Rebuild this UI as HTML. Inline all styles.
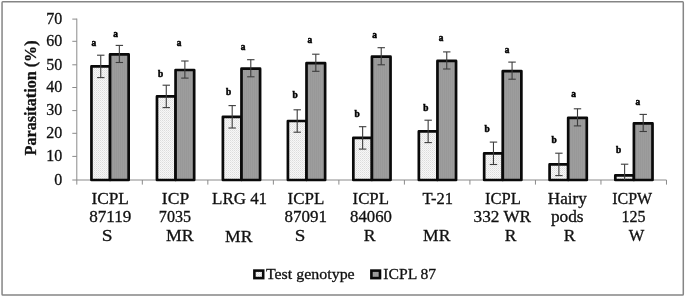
<!DOCTYPE html>
<html><head><meta charset="utf-8"><title>Parasitation chart</title>
<style>
html,body{margin:0;padding:0;background:#fff;}
svg{display:block;}
text{font-family:"Liberation Serif","Times New Roman",serif;fill:#111;stroke:#111;stroke-width:0.3px;}
.b{font-weight:bold;}
</style></head><body>
<svg width="685" height="297" viewBox="0 0 685 297">
<defs>
<pattern id="dots" width="2" height="2" patternUnits="userSpaceOnUse">
<rect width="2" height="2" fill="#f7f7f7"/>
<rect x="0" y="0" width="1" height="1" fill="#dcdcdc"/>
<rect x="1" y="1" width="1" height="1" fill="#e8e8e8"/>
</pattern>
<pattern id="vstr" width="2" height="2" patternUnits="userSpaceOnUse">
<rect width="2" height="2" fill="#9d9d9d"/>
<rect x="0" y="0" width="1" height="2" fill="#989898"/>
</pattern>
</defs>
<rect x="0" y="0" width="685" height="297" fill="#fff"/>
<rect x="2.05" y="1.85" width="681.25" height="293.15" rx="0.8" ry="0.8" fill="#fff" stroke="#858585" stroke-width="1.5"/>

<g stroke="#8a8a8a" stroke-width="1" fill="none">
<line x1="76.8" y1="18.6" x2="76.8" y2="184.6"/>
<line x1="72.3" y1="180.0" x2="666.5" y2="180.0"/>
<line x1="72.3" y1="156.40" x2="76.8" y2="156.40"/>
<line x1="72.3" y1="133.30" x2="76.8" y2="133.30"/>
<line x1="72.3" y1="110.60" x2="76.8" y2="110.60"/>
<line x1="72.3" y1="87.50" x2="76.8" y2="87.50"/>
<line x1="72.3" y1="64.80" x2="76.8" y2="64.80"/>
<line x1="72.3" y1="41.30" x2="76.8" y2="41.30"/>
<line x1="72.3" y1="19.10" x2="76.8" y2="19.10"/>
<line x1="142.32" y1="180.0" x2="142.32" y2="184.6"/>
<line x1="207.84" y1="180.0" x2="207.84" y2="184.6"/>
<line x1="273.36" y1="180.0" x2="273.36" y2="184.6"/>
<line x1="338.88" y1="180.0" x2="338.88" y2="184.6"/>
<line x1="404.40" y1="180.0" x2="404.40" y2="184.6"/>
<line x1="469.92" y1="180.0" x2="469.92" y2="184.6"/>
<line x1="535.44" y1="180.0" x2="535.44" y2="184.6"/>
<line x1="600.96" y1="180.0" x2="600.96" y2="184.6"/>
<line x1="666.48" y1="180.0" x2="666.48" y2="184.6"/>
</g>
<text x="62.3" y="184.85" font-size="16" text-anchor="end">0</text>
<text x="62.3" y="161.25" font-size="16" text-anchor="end">10</text>
<text x="62.3" y="138.15" font-size="16" text-anchor="end">20</text>
<text x="62.3" y="115.45" font-size="16" text-anchor="end">30</text>
<text x="62.3" y="92.35" font-size="16" text-anchor="end">40</text>
<text x="62.3" y="69.65" font-size="16" text-anchor="end">50</text>
<text x="62.3" y="46.15" font-size="16" text-anchor="end">60</text>
<text x="62.3" y="23.95" font-size="16" text-anchor="end">70</text>
<text class="b" font-size="16" text-anchor="middle" textLength="115" lengthAdjust="spacingAndGlyphs" transform="translate(36.2,97.9) rotate(-90)">Parasitation (%)</text>
<rect x="91.45" y="66.40" width="18.60" height="113.60" fill="url(#dots)" stroke="#0a0a0a" stroke-width="2.7" stroke-linejoin="round"/>
<rect x="110.05" y="54.40" width="18.60" height="125.60" fill="url(#vstr)" stroke="#0a0a0a" stroke-width="2.7" stroke-linejoin="round"/>
<g stroke="#3c3c3c" stroke-width="1.1" fill="none"><line x1="100.75" y1="55.20" x2="100.75" y2="77.60"/><line x1="97.05" y1="55.20" x2="104.45" y2="55.20"/>
<line x1="97.05" y1="77.60" x2="104.45" y2="77.60"/>
</g>
<g stroke="#3c3c3c" stroke-width="1.1" fill="none"><line x1="119.35" y1="45.40" x2="119.35" y2="62.50"/><line x1="115.65" y1="45.40" x2="123.05" y2="45.40"/>
<line x1="115.65" y1="62.50" x2="123.05" y2="62.50"/>
</g>
<rect x="156.97" y="96.40" width="18.60" height="83.60" fill="url(#dots)" stroke="#0a0a0a" stroke-width="2.7" stroke-linejoin="round"/>
<rect x="175.57" y="70.00" width="18.60" height="110.00" fill="url(#vstr)" stroke="#0a0a0a" stroke-width="2.7" stroke-linejoin="round"/>
<g stroke="#3c3c3c" stroke-width="1.1" fill="none"><line x1="166.27" y1="85.20" x2="166.27" y2="107.60"/><line x1="162.57" y1="85.20" x2="169.97" y2="85.20"/>
<line x1="162.57" y1="107.60" x2="169.97" y2="107.60"/>
</g>
<g stroke="#3c3c3c" stroke-width="1.1" fill="none"><line x1="184.87" y1="61.00" x2="184.87" y2="78.10"/><line x1="181.17" y1="61.00" x2="188.57" y2="61.00"/>
<line x1="181.17" y1="78.10" x2="188.57" y2="78.10"/>
</g>
<rect x="222.89" y="116.80" width="18.60" height="63.20" fill="url(#dots)" stroke="#0a0a0a" stroke-width="2.7" stroke-linejoin="round"/>
<rect x="241.49" y="68.70" width="18.60" height="111.30" fill="url(#vstr)" stroke="#0a0a0a" stroke-width="2.7" stroke-linejoin="round"/>
<g stroke="#3c3c3c" stroke-width="1.1" fill="none"><line x1="232.19" y1="105.60" x2="232.19" y2="128.00"/><line x1="228.49" y1="105.60" x2="235.89" y2="105.60"/>
<line x1="228.49" y1="128.00" x2="235.89" y2="128.00"/>
</g>
<g stroke="#3c3c3c" stroke-width="1.1" fill="none"><line x1="250.79" y1="59.70" x2="250.79" y2="76.80"/><line x1="247.09" y1="59.70" x2="254.49" y2="59.70"/>
<line x1="247.09" y1="76.80" x2="254.49" y2="76.80"/>
</g>
<rect x="287.91" y="121.00" width="18.60" height="59.00" fill="url(#dots)" stroke="#0a0a0a" stroke-width="2.7" stroke-linejoin="round"/>
<rect x="306.51" y="63.20" width="18.60" height="116.80" fill="url(#vstr)" stroke="#0a0a0a" stroke-width="2.7" stroke-linejoin="round"/>
<g stroke="#3c3c3c" stroke-width="1.1" fill="none"><line x1="297.21" y1="109.80" x2="297.21" y2="132.20"/><line x1="293.51" y1="109.80" x2="300.91" y2="109.80"/>
<line x1="293.51" y1="132.20" x2="300.91" y2="132.20"/>
</g>
<g stroke="#3c3c3c" stroke-width="1.1" fill="none"><line x1="315.81" y1="54.20" x2="315.81" y2="71.30"/><line x1="312.11" y1="54.20" x2="319.51" y2="54.20"/>
<line x1="312.11" y1="71.30" x2="319.51" y2="71.30"/>
</g>
<rect x="353.33" y="137.90" width="18.60" height="42.10" fill="url(#dots)" stroke="#0a0a0a" stroke-width="2.7" stroke-linejoin="round"/>
<rect x="371.93" y="56.70" width="18.60" height="123.30" fill="url(#vstr)" stroke="#0a0a0a" stroke-width="2.7" stroke-linejoin="round"/>
<g stroke="#3c3c3c" stroke-width="1.1" fill="none"><line x1="362.63" y1="126.70" x2="362.63" y2="149.10"/><line x1="358.93" y1="126.70" x2="366.33" y2="126.70"/>
<line x1="358.93" y1="149.10" x2="366.33" y2="149.10"/>
</g>
<g stroke="#3c3c3c" stroke-width="1.1" fill="none"><line x1="381.23" y1="47.70" x2="381.23" y2="64.80"/><line x1="377.53" y1="47.70" x2="384.93" y2="47.70"/>
<line x1="377.53" y1="64.80" x2="384.93" y2="64.80"/>
</g>
<rect x="418.85" y="131.40" width="18.60" height="48.60" fill="url(#dots)" stroke="#0a0a0a" stroke-width="2.7" stroke-linejoin="round"/>
<rect x="437.45" y="60.90" width="18.60" height="119.10" fill="url(#vstr)" stroke="#0a0a0a" stroke-width="2.7" stroke-linejoin="round"/>
<g stroke="#3c3c3c" stroke-width="1.1" fill="none"><line x1="428.15" y1="120.20" x2="428.15" y2="142.60"/><line x1="424.45" y1="120.20" x2="431.85" y2="120.20"/>
<line x1="424.45" y1="142.60" x2="431.85" y2="142.60"/>
</g>
<g stroke="#3c3c3c" stroke-width="1.1" fill="none"><line x1="446.75" y1="51.90" x2="446.75" y2="69.00"/><line x1="443.05" y1="51.90" x2="450.45" y2="51.90"/>
<line x1="443.05" y1="69.00" x2="450.45" y2="69.00"/>
</g>
<rect x="484.17" y="153.30" width="18.60" height="26.70" fill="url(#dots)" stroke="#0a0a0a" stroke-width="2.7" stroke-linejoin="round"/>
<rect x="502.77" y="71.10" width="18.60" height="108.90" fill="url(#vstr)" stroke="#0a0a0a" stroke-width="2.7" stroke-linejoin="round"/>
<g stroke="#3c3c3c" stroke-width="1.1" fill="none"><line x1="493.47" y1="142.10" x2="493.47" y2="164.50"/><line x1="489.77" y1="142.10" x2="497.17" y2="142.10"/>
<line x1="489.77" y1="164.50" x2="497.17" y2="164.50"/>
</g>
<g stroke="#3c3c3c" stroke-width="1.1" fill="none"><line x1="512.07" y1="62.10" x2="512.07" y2="79.20"/><line x1="508.37" y1="62.10" x2="515.77" y2="62.10"/>
<line x1="508.37" y1="79.20" x2="515.77" y2="79.20"/>
</g>
<rect x="549.59" y="164.40" width="18.60" height="15.60" fill="url(#dots)" stroke="#0a0a0a" stroke-width="2.7" stroke-linejoin="round"/>
<rect x="568.19" y="117.80" width="18.60" height="62.20" fill="url(#vstr)" stroke="#0a0a0a" stroke-width="2.7" stroke-linejoin="round"/>
<g stroke="#3c3c3c" stroke-width="1.1" fill="none"><line x1="558.89" y1="153.20" x2="558.89" y2="175.60"/><line x1="555.19" y1="153.20" x2="562.59" y2="153.20"/>
<line x1="555.19" y1="175.60" x2="562.59" y2="175.60"/>
</g>
<g stroke="#3c3c3c" stroke-width="1.1" fill="none"><line x1="577.49" y1="108.80" x2="577.49" y2="125.90"/><line x1="573.79" y1="108.80" x2="581.19" y2="108.80"/>
<line x1="573.79" y1="125.90" x2="581.19" y2="125.90"/>
</g>
<rect x="615.31" y="175.40" width="18.60" height="4.60" fill="url(#dots)" stroke="#0a0a0a" stroke-width="2.7" stroke-linejoin="round"/>
<rect x="633.91" y="123.40" width="18.60" height="56.60" fill="url(#vstr)" stroke="#0a0a0a" stroke-width="2.7" stroke-linejoin="round"/>
<g stroke="#3c3c3c" stroke-width="1.1" fill="none"><line x1="624.61" y1="164.20" x2="624.61" y2="180.00"/><line x1="620.91" y1="164.20" x2="628.31" y2="164.20"/>
</g>
<g stroke="#3c3c3c" stroke-width="1.1" fill="none"><line x1="643.21" y1="114.40" x2="643.21" y2="131.50"/><line x1="639.51" y1="114.40" x2="646.91" y2="114.40"/>
<line x1="639.51" y1="131.50" x2="646.91" y2="131.50"/>
</g>
<text class="b" x="93.9" y="45.6" font-size="9.3" text-anchor="middle" style="fill:#000;stroke:#000;stroke-width:0.5px">a</text>
<text class="b" x="115.6" y="36.5" font-size="9.3" text-anchor="middle" style="fill:#000;stroke:#000;stroke-width:0.5px">a</text>
<text class="b" x="160.5" y="77.3" font-size="9.3" text-anchor="middle" style="fill:#000;stroke:#000;stroke-width:0.5px">b</text>
<text class="b" x="179" y="45.5" font-size="9.3" text-anchor="middle" style="fill:#000;stroke:#000;stroke-width:0.5px">a</text>
<text class="b" x="228.5" y="95.0" font-size="9.3" text-anchor="middle" style="fill:#000;stroke:#000;stroke-width:0.5px">b</text>
<text class="b" x="243.0" y="49.8" font-size="9.3" text-anchor="middle" style="fill:#000;stroke:#000;stroke-width:0.5px">a</text>
<text class="b" x="295" y="97.9" font-size="9.3" text-anchor="middle" style="fill:#000;stroke:#000;stroke-width:0.5px">b</text>
<text class="b" x="309.8" y="43.1" font-size="9.3" text-anchor="middle" style="fill:#000;stroke:#000;stroke-width:0.5px">a</text>
<text class="b" x="357" y="116.9" font-size="9.3" text-anchor="middle" style="fill:#000;stroke:#000;stroke-width:0.5px">b</text>
<text class="b" x="374.7" y="37.5" font-size="9.3" text-anchor="middle" style="fill:#000;stroke:#000;stroke-width:0.5px">a</text>
<text class="b" x="425.8" y="111.2" font-size="9.3" text-anchor="middle" style="fill:#000;stroke:#000;stroke-width:0.5px">b</text>
<text class="b" x="441.2" y="40.5" font-size="9.3" text-anchor="middle" style="fill:#000;stroke:#000;stroke-width:0.5px">a</text>
<text class="b" x="487" y="132.4" font-size="9.3" text-anchor="middle" style="fill:#000;stroke:#000;stroke-width:0.5px">b</text>
<text class="b" x="507.1" y="53.1" font-size="9.3" text-anchor="middle" style="fill:#000;stroke:#000;stroke-width:0.5px">a</text>
<text class="b" x="554" y="142.8" font-size="9.3" text-anchor="middle" style="fill:#000;stroke:#000;stroke-width:0.5px">b</text>
<text class="b" x="573.5" y="96.6" font-size="9.3" text-anchor="middle" style="fill:#000;stroke:#000;stroke-width:0.5px">a</text>
<text class="b" x="618.6" y="153.3" font-size="9.3" text-anchor="middle" style="fill:#000;stroke:#000;stroke-width:0.5px">b</text>
<text class="b" x="637.9" y="104.6" font-size="9.3" text-anchor="middle" style="fill:#000;stroke:#000;stroke-width:0.5px">a</text>
<text x="91.46" y="203.9" font-size="16" textLength="37.38" lengthAdjust="spacingAndGlyphs">ICPL</text>
<text x="89.25" y="221.7" font-size="16" textLength="42.14" lengthAdjust="spacingAndGlyphs">87119</text>
<text x="101.65" y="241.0" font-size="16.8" textLength="10.82" lengthAdjust="spacingAndGlyphs">S</text>
<text x="161.89" y="203.9" font-size="16" textLength="27.25" lengthAdjust="spacingAndGlyphs">ICP</text>
<text x="158.83" y="221.7" font-size="16" textLength="32.22" lengthAdjust="spacingAndGlyphs">7035</text>
<text x="166.05" y="241.0" font-size="16.8" textLength="27.67" lengthAdjust="spacingAndGlyphs">MR</text>
<text x="212.06" y="203.9" font-size="16" textLength="55.04" lengthAdjust="spacingAndGlyphs">LRG 41</text>
<text x="225.06" y="242.0" font-size="16.8" textLength="27.38" lengthAdjust="spacingAndGlyphs">MR</text>
<text x="287.59" y="203.9" font-size="16" textLength="36.68" lengthAdjust="spacingAndGlyphs">ICPL</text>
<text x="284.62" y="221.7" font-size="16" textLength="42.32" lengthAdjust="spacingAndGlyphs">87091</text>
<text x="294.73" y="241.0" font-size="16.8" textLength="10.61" lengthAdjust="spacingAndGlyphs">S</text>
<text x="352.59" y="203.9" font-size="16" textLength="36.35" lengthAdjust="spacingAndGlyphs">ICPL</text>
<text x="350.08" y="221.7" font-size="16" textLength="41.87" lengthAdjust="spacingAndGlyphs">84060</text>
<text x="363.69" y="241.0" font-size="16.8" textLength="11.77" lengthAdjust="spacingAndGlyphs">R</text>
<text x="422.42" y="203.9" font-size="16" textLength="30.58" lengthAdjust="spacingAndGlyphs">T-21</text>
<text x="423.08" y="241.4" font-size="16.8" textLength="27.29" lengthAdjust="spacingAndGlyphs">MR</text>
<text x="485.10" y="203.9" font-size="16" textLength="35.81" lengthAdjust="spacingAndGlyphs">ICPL</text>
<text x="473.63" y="221.7" font-size="16" textLength="57.44" lengthAdjust="spacingAndGlyphs">332 WR</text>
<text x="504.85" y="241.0" font-size="16.8" textLength="11.66" lengthAdjust="spacingAndGlyphs">R</text>
<text x="547.83" y="203.9" font-size="16" textLength="38.94" lengthAdjust="spacingAndGlyphs">Hairy</text>
<text x="550.90" y="221.7" font-size="16" textLength="32.68" lengthAdjust="spacingAndGlyphs">pods</text>
<text x="563.81" y="241.0" font-size="16.8" textLength="11.66" lengthAdjust="spacingAndGlyphs">R</text>
<text x="612.23" y="203.9" font-size="16" textLength="39.84" lengthAdjust="spacingAndGlyphs">ICPW</text>
<text x="621.45" y="221.7" font-size="16" textLength="24.07" lengthAdjust="spacingAndGlyphs">125</text>
<text x="628.73" y="241.0" font-size="16.8" textLength="15.54" lengthAdjust="spacingAndGlyphs">W</text>
<rect x="254.4" y="270.6" width="8.8" height="7.5" fill="url(#dots)" stroke="#0a0a0a" stroke-width="2.6"/>
<text x="265.9" y="278.5" font-size="15.6" textLength="88.8" lengthAdjust="spacingAndGlyphs">Test genotype</text>
<rect x="371.4" y="270.6" width="8.6" height="7.5" fill="url(#vstr)" stroke="#0a0a0a" stroke-width="2.6"/>
<text x="383.3" y="278.5" font-size="15.6" textLength="52.9" lengthAdjust="spacingAndGlyphs">ICPL 87</text>
</svg></body></html>
